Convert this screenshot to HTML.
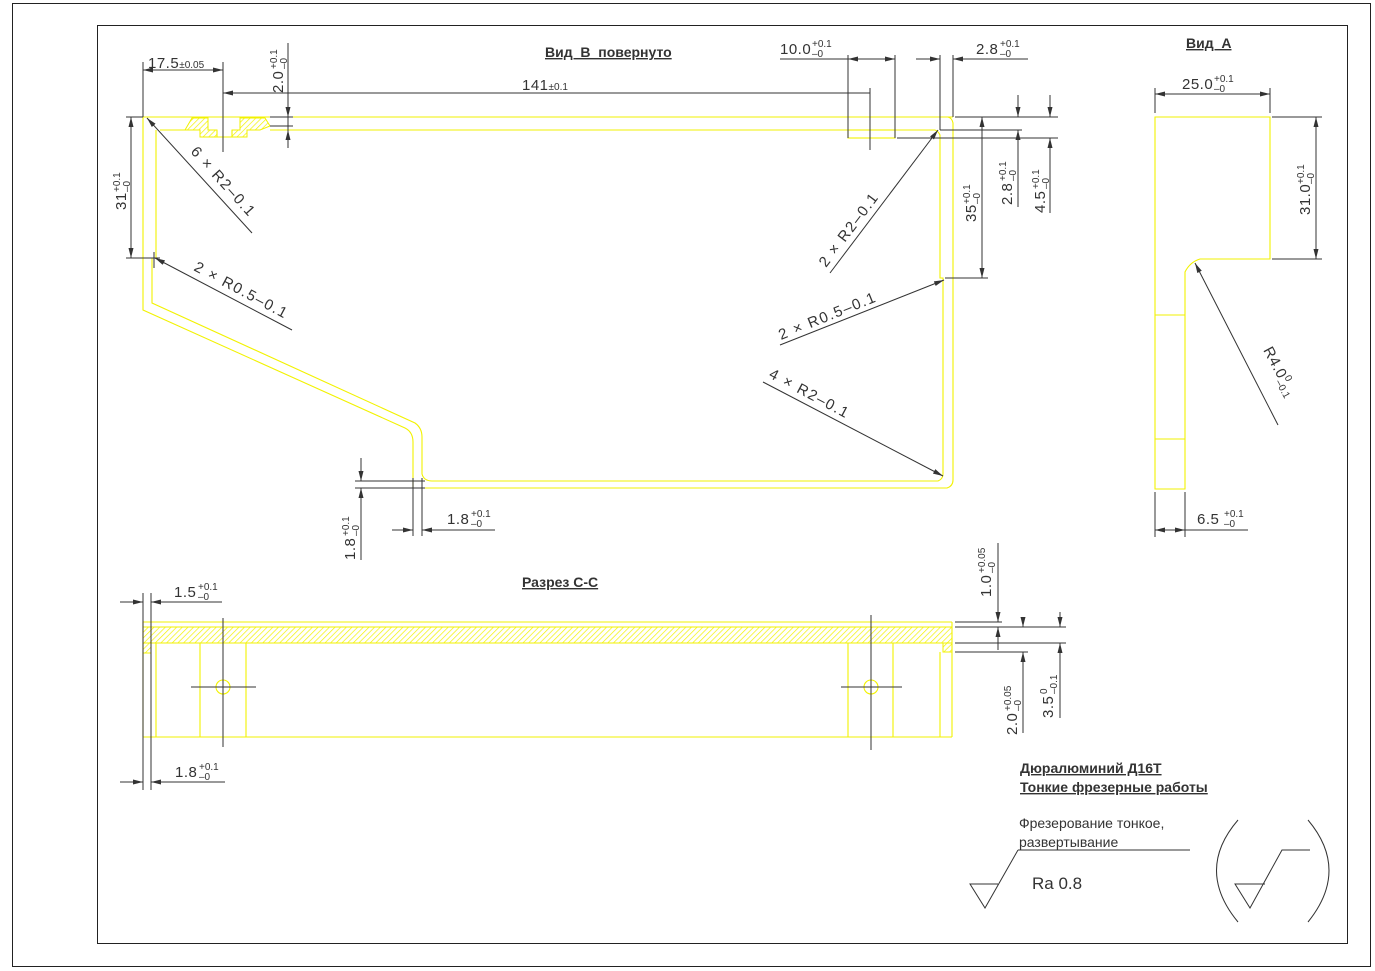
<!DOCTYPE html>
<html><head><meta charset="utf-8"><style>
html,body{margin:0;padding:0;background:#fff}
svg{display:block}
text{font-family:"Liberation Sans",sans-serif;fill:#333}
.y{stroke:#f2f200;stroke-width:1.1;fill:none}
.d{stroke:#333;stroke-width:1;fill:none}
.n{font-size:15px;letter-spacing:0.5px}
.s{font-size:10px}
.l{font-size:15px;letter-spacing:1.5px}
.t{font-size:14px;font-weight:bold;text-decoration:underline}
</style></head><body>
<svg width="1375" height="971" viewBox="0 0 1375 971" xmlns="http://www.w3.org/2000/svg">
<defs>
<marker id="a" viewBox="0 0 10 6" refX="10" refY="3" markerWidth="10" markerHeight="6" orient="auto-start-reverse" markerUnits="userSpaceOnUse"><path d="M0,0.5 L10,3 L0,5.5z" fill="#333"/></marker>
<pattern id="h" width="4" height="4" patternUnits="userSpaceOnUse" patternTransform="rotate(45)"><line x1="0" y1="0" x2="0" y2="4" stroke="#f2f200" stroke-width="1.4"/></pattern>
</defs>
<rect x="12.5" y="3.5" width="1358" height="963" fill="none" stroke="#222" stroke-width="1"/>
<rect x="97.5" y="25.5" width="1250" height="918" fill="none" stroke="#222" stroke-width="1"/>

<!-- MAIN VIEW -->
<g class="y">
<path d="M143,117 L953,117"/>
<path d="M160,130 L185,130 M270,130 L848,130 M895,130 L935,130"/>
<path d="M143,117 L143,310 L405,428 Q413,432 413,442 L413,488 L947,488 Q953,486 953,480 L953,123 Q952,118 948,117"/>
<path d="M156,130 Q156,132 156,135 L156,258 L152,258 L152,303 L415,423 Q422,428 422,437 L422,474 Q424,481 432,481 L938,481 Q943,479 943,474 L943,278 L940,278 L940,135 Q938,131 935,130"/>
<rect x="848" y="130" width="47" height="8"/>
<path d="M217,130 L217,137 L232,137 L232,130"/>
</g>
<path d="M185,130 L192,118 L208,118 L208,130 L217,130 L217,137 L200,137 L200,130z" fill="url(#h)" stroke="#f2f200" stroke-width="1"/>
<path d="M240,118 L265,118 L270,126 L260,130 L247,130 L247,137 L232,137 L232,130 L240,130z" fill="url(#h)" stroke="#f2f200" stroke-width="1"/>

<g class="d">
<path d="M143,62 V117 M223,62 V152"/>
<path d="M143,70 H223" marker-start="url(#a)" marker-end="url(#a)"/>
<path d="M223,93 H870" marker-start="url(#a)"/>
<path d="M870,88 V150"/>
<path d="M288,43 V148"/>
<path d="M288,105 V117" marker-end="url(#a)"/><path d="M288,142 V130" marker-end="url(#a)"/>
<path d="M270,117 H293 M270,126 H293"/>
<path d="M848,55 V138 M895,55 V138"/>
<path d="M780,59 H895"/><path d="M858,59 H848" marker-end="url(#a)"/><path d="M885,59 H895" marker-end="url(#a)"/>
<path d="M940,55 V130 M953,55 V117"/>
<path d="M916,59 H940" marker-end="url(#a)"/><path d="M1028,59 H953" marker-end="url(#a)"/>
<path d="M955,117 H1058 M940,130 H1022 M897,138 H1058"/>
<path d="M982,117 V278" marker-start="url(#a)" marker-end="url(#a)"/>
<path d="M945,278 H988"/>
<path d="M1018,95 V117" marker-end="url(#a)"/><path d="M1018,207 V130" marker-end="url(#a)"/>
<path d="M1050,95 V117" marker-end="url(#a)"/><path d="M1050,213 V138" marker-end="url(#a)"/>
<path d="M126,117 H143 M126,258 H160"/>
<path d="M131,117 V258" marker-start="url(#a)" marker-end="url(#a)"/>
<path d="M154,252 V268"/>
<path d="M252,233 L147,118" marker-end="url(#a)"/>
<path d="M292,330 L155,258" marker-end="url(#a)"/>
<path d="M830,273 L938,130" marker-end="url(#a)"/>
<path d="M780,345 L944,280" marker-end="url(#a)"/>
<path d="M763,382 L943,476" marker-end="url(#a)"/>
<path d="M355,481 H425 M355,488 H425"/>
<path d="M361,458 V481" marker-end="url(#a)"/><path d="M361,560 V488" marker-end="url(#a)"/>
<path d="M413,478 V536 M422,478 V536"/>
<path d="M392,530 H413" marker-end="url(#a)"/><path d="M495,530 H422" marker-end="url(#a)"/>
</g>

<text class="t" x="545" y="57">Вид&#160;&#160;В&#160;&#160;повернуто</text>
<text x="148" y="68"><tspan class="n">17.5</tspan><tspan class="s">±0.05</tspan></text>
<text x="522" y="90"><tspan class="n">141</tspan><tspan class="s">±0.1</tspan></text>
<g transform="translate(283,93) rotate(-90)"><text class="n" x="0" y="0">2.0</text><text class="s" x="24" y="-6">+0.1</text><text class="s" x="24" y="4">–0</text></g>
<text class="n" x="780" y="54">10.0</text><text class="s" x="812" y="47">+0.1</text><text class="s" x="812" y="57">–0</text>
<text class="n" x="976" y="54">2.8</text><text class="s" x="1000" y="47">+0.1</text><text class="s" x="1000" y="57">–0</text>
<g transform="translate(126,210) rotate(-90)"><text class="n" x="0" y="0">31</text><text class="s" x="18" y="-6">+0.1</text><text class="s" x="18" y="4">–0</text></g>
<g transform="translate(976,222) rotate(-90)"><text class="n" x="0" y="0">35</text><text class="s" x="18" y="-6">+0.1</text><text class="s" x="18" y="4">–0</text></g>
<g transform="translate(1012,205) rotate(-90)"><text class="n" x="0" y="0">2.8</text><text class="s" x="24" y="-6">+0.1</text><text class="s" x="24" y="4">–0</text></g>
<g transform="translate(1045,213) rotate(-90)"><text class="n" x="0" y="0">4.5</text><text class="s" x="24" y="-6">+0.1</text><text class="s" x="24" y="4">–0</text></g>
<text class="l" transform="translate(190,152) rotate(48)">6 × R2–0.1</text>
<text class="l" transform="translate(193,270) rotate(28)">2 × R0.5–0.1</text>
<text class="l" transform="translate(826,268) rotate(-53)">2 × R2–0.1</text>
<text class="l" transform="translate(781,340) rotate(-22)">2 × R0.5–0.1</text>
<text class="l" transform="translate(768,377) rotate(28)">4 × R2–0.1</text>
<g transform="translate(355,560) rotate(-90)"><text class="n" x="0" y="0">1.8</text><text class="s" x="24" y="-6">+0.1</text><text class="s" x="24" y="4">–0</text></g>
<text class="n" x="447" y="524">1.8</text><text class="s" x="471" y="517">+0.1</text><text class="s" x="471" y="527">–0</text>

<!-- SECTION C-C -->
<text class="t" x="522" y="587">Разрез С-С</text>
<g class="y">
<path d="M143,622 H952 M143,643 H952 M143,737 H952"/>
<path d="M143,622 V737 M156,643 V737 M200,643 V737 M246,643 V737 M848,643 V737 M893,643 V737 M940,652 V737 M952,622 V737"/>
<circle cx="223" cy="687" r="7"/><circle cx="871" cy="687" r="7"/>
</g>
<rect x="143" y="627" width="809" height="16" fill="url(#h)" stroke="#f2f200" stroke-width="1"/>
<rect x="143" y="643" width="8" height="10" fill="url(#h)" stroke="#f2f200" stroke-width="1"/>
<rect x="943" y="643" width="9" height="9" fill="url(#h)" stroke="#f2f200" stroke-width="1"/>
<g class="d">
<path d="M223,618 V747 M191,687 H256 M871,615 V750 M841,687 H902"/>
<path d="M143,593 V790 M151,593 V790"/>
<path d="M120,602 H143" marker-end="url(#a)"/><path d="M222,602 H151" marker-end="url(#a)"/>
<path d="M120,782 H143" marker-end="url(#a)"/><path d="M225,782 H151" marker-end="url(#a)"/>
<path d="M955,622 H1002 M955,627 H1066 M955,643 H1066 M955,652 H1028"/>
<path d="M998,543 V622" marker-end="url(#a)"/><path d="M998,650 V627" marker-end="url(#a)"/>
<path d="M1023,617 V627" marker-end="url(#a)"/><path d="M1023,733 V652" marker-end="url(#a)"/>
<path d="M1060,612 V627" marker-end="url(#a)"/><path d="M1060,718 V643" marker-end="url(#a)"/>
</g>
<text class="n" x="174" y="597">1.5</text><text class="s" x="198" y="590">+0.1</text><text class="s" x="198" y="600">–0</text>
<text class="n" x="175" y="777">1.8</text><text class="s" x="199" y="770">+0.1</text><text class="s" x="199" y="780">–0</text>
<g transform="translate(991,597) rotate(-90)"><text class="n" x="0" y="0">1.0</text><text class="s" x="24" y="-6">+0.05</text><text class="s" x="24" y="4">–0</text></g>
<g transform="translate(1017,735) rotate(-90)"><text class="n" x="0" y="0">2.0</text><text class="s" x="24" y="-6">+0.05</text><text class="s" x="24" y="4">–0</text></g>
<g transform="translate(1053,718) rotate(-90)"><text class="n" x="0" y="0">3.5</text><text class="s" x="24" y="-6">0</text><text class="s" x="24" y="4">–0.1</text></g>

<!-- VIEW A -->
<text class="t" x="1186" y="48">Вид&#160;&#160;А</text>
<g class="y">
<path d="M1155,117 H1270 V259 H1200 Q1190,262 1185,272 V489 H1155 Z"/>
<path d="M1155,315 H1185 M1155,439 H1185"/>
</g>
<g class="d">
<path d="M1155,88 V113 M1270,88 V113"/>
<path d="M1155,94 H1270" marker-start="url(#a)" marker-end="url(#a)"/>
<path d="M1272,117 H1322 M1272,259 H1322"/>
<path d="M1316,117 V259" marker-start="url(#a)" marker-end="url(#a)"/>
<path d="M1155,492 V537 M1185,492 V537"/>
<path d="M1155,530 H1248"/><path d="M1170,530 H1185" marker-end="url(#a)"/><path d="M1170,530 H1155" marker-end="url(#a)"/>
<path d="M1278,425 L1195,263" marker-end="url(#a)"/>
</g>
<text class="n" x="1182" y="89">25.0</text><text class="s" x="1214" y="82">+0.1</text><text class="s" x="1214" y="92">–0</text>
<g transform="translate(1310,215) rotate(-90)"><text class="n" x="0" y="0">31.0</text><text class="s" x="31" y="-6">+0.1</text><text class="s" x="31" y="4">–0</text></g>
<text class="n" x="1197" y="524">6.5</text><text class="s" x="1224" y="517">+0.1</text><text class="s" x="1224" y="527">–0</text>
<g transform="translate(1263,350) rotate(62)"><text class="n" x="0" y="0">R4.0</text><text class="s" x="34" y="-6">0</text><text class="s" x="34" y="4">–0.1</text></g>

<!-- NOTES -->
<text x="1020" y="773" style="font-size:14px;font-weight:bold;text-decoration:underline">Дюралюминий Д16Т</text>
<text x="1020" y="792" style="font-size:14px;font-weight:bold;text-decoration:underline">Тонкие фрезерные работы</text>
<text x="1019" y="828" style="font-size:14px">Фрезерование тонкое,</text>
<text x="1019" y="847" style="font-size:14px">развертывание</text>
<text x="1032" y="889" style="font-size:17px">Ra 0.8</text>
<g class="d" stroke-width="1">
<path d="M1018,850 H1190 M1018,850 L985,908 L970,884 H998"/>
<path d="M1310,850 H1282 L1250,908 L1235,884 H1265"/>
<path d="M1238,820 Q1195,870 1238,922"/>
<path d="M1308,820 Q1350,870 1308,922"/>
</g>
</svg>
</body></html>
